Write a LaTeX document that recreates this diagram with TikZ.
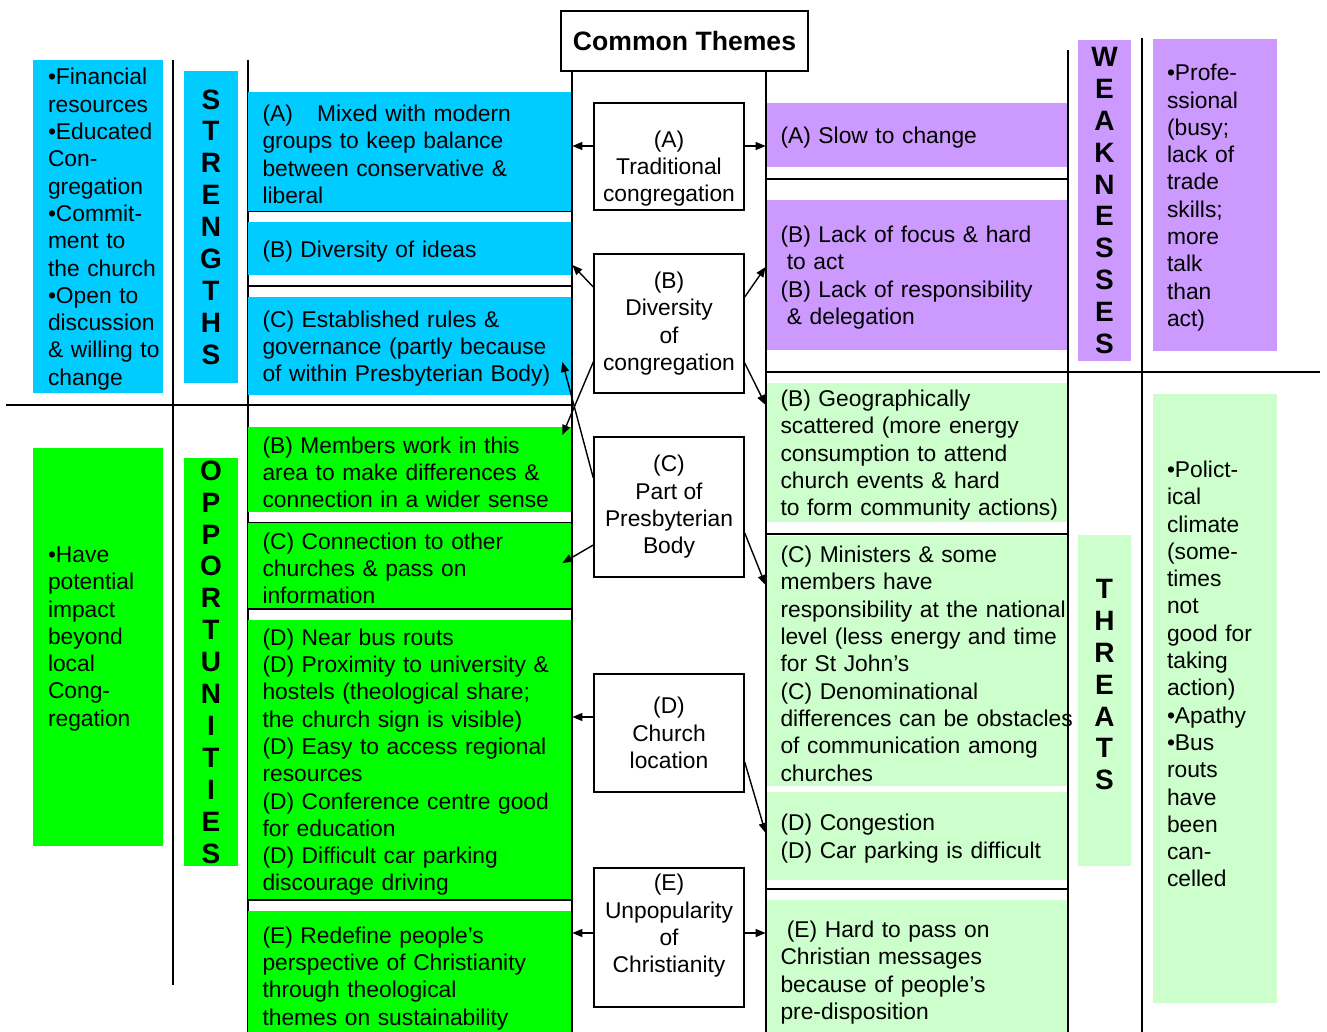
\documentclass[tikz,border=0pt]{standalone}
\usepackage{fontspec}
\setmainfont{Liberation Sans}
\usetikzlibrary{arrows.meta}

\hyphenpenalty=10000
\exhyphenpenalty=10000

\definecolor{strcol}{RGB}{0,204,255}
\definecolor{oppcol}{RGB}{0,255,0}
\definecolor{weakcol}{RGB}{204,153,255}
\definecolor{thrcol}{RGB}{204,255,204}

\newcommand{\swotfont}{\fontsize{11.4}{13.65}\selectfont}
\newcommand{\swotletters}{\fontsize{14}{15.95}\selectfont\bfseries}

\tikzset{
  lcell/.style={fill=#1, text width=147.5pt, text height=11pt, inner xsep=7.25pt, inner ysep=0pt, align=left, font=\swotfont},
  rcell/.style={fill=#1, text width=136.5pt, text height=11pt, inner xsep=7.25pt, inner ysep=0pt, align=left, font=\swotfont},
  sidel/.style={fill=#1, text width=50pt, text height=11pt, inner xsep=7.5pt, inner ysep=0pt, align=left, font=\swotfont},
  sider/.style={fill=#1, text width=48pt, text height=11pt, inner xsep=7pt, inner ysep=0pt, align=left, font=\swotfont},
  letters/.style={fill=#1, minimum width=27pt, inner sep=0pt, align=center, font=\swotletters},
  theme/.style={draw, line width=0.7pt, fill=white, minimum width=75pt, inner sep=0pt, align=center, font=\swotfont},
}

\begin{document}
\begin{tikzpicture}[x=0.5pt, y=-0.5pt,
    link/.style={-{Triangle[length=5pt,width=4pt]}, line width=0.7pt},
    rule/.style={line width=0.7pt}]
\useasboundingbox (0,0) rectangle (1327,1032);

% grid lines behind the cells
\draw[rule] (173,60) -- (173,985);
\draw[rule] (248,60) -- (248,1032);
\draw[rule] (6,405) -- (572,405);
\draw[rule] (248,211) -- (572,211);
\draw[rule] (248,286) -- (572,286);
\draw[rule] (248,523) -- (572,523);
\draw[rule] (248,609) -- (572,609);
\draw[rule] (248,900) -- (572,900);
\draw[rule] (766,179) -- (1068,179);
\draw[rule] (766,372) -- (1320,372);
\draw[rule] (766,534) -- (1068,534);
\draw[rule] (766,889) -- (1068,889);
\draw[rule] (1142,38) -- (1142,1032);

% title
\node[draw, line width=0.7pt, minimum width=123.5pt, minimum height=30pt, inner sep=0pt,
      font=\fontsize{13.3}{16}\selectfont\bfseries] (common) at (684.5,41) {Common Themes};

% strengths
\node[sidel=strcol, minimum height=166.5pt] (strTxt) at (98,226.5)
  {•Financial\\resources\\•Educated\\Con-\\gregation\\•Commit-\\ment to\\\mbox{the church}\\•Open to\\discussion\\\mbox{\& willing to}\\change};
\node[letters=strcol, minimum height=156pt] (strLbl) at (211,227) {S\\T\\R\\E\\N\\G\\T\\H\\S};
\node[lcell=strcol, minimum height=59.5pt] (sA) at (410,151.5)
  {(A)\hspace{8.3pt} Mixed with modern\\groups to keep balance\\between conservative \&\\liberal};
\node[lcell=strcol, minimum height=26.5pt] (sB) at (410,248.5) {(B) Diversity of ideas};
\node[lcell=strcol, minimum height=49pt] (sC) at (410,346)
  {(C) Established rules \&\\governance (partly because\\of within Presbyterian Body)};

% opportunities
\node[sidel=oppcol, minimum height=199pt] (oppTxt) at (98,647)
  {•Have\\potential\\impact\\beyond\\local\\Cong-\\regation\\\mbox{}};
\node[letters=oppcol, minimum height=204pt] (oppLbl) at (211,662) {O\\P\\P\\O\\R\\T\\U\\N\\I\\T\\I\\E\\S};
\node[lcell=oppcol, minimum height=42.5pt] (oB) at (410,469.5)
  {(B) Members work in this\\area to make differences \&\\connection in a wider sense};
\node[lcell=oppcol, minimum height=42.5pt] (oC) at (410,565.5)
  {(C) Connection to other\\churches \& pass on\\information};
\node[lcell=oppcol, minimum height=139.5pt] (oD) at (410,759.5)
  {(D) Near bus routs\\(D) Proximity to university \&\\hostels (theological share;\\the church sign is visible)\\(D) Easy to access regional\\resources\\(D) Conference centre good\\for education\\(D) Difficult car parking\\discourage driving};
\node[lcell=oppcol, minimum height=64.5pt] (oE) at (410,975.5)
  {(E) Redefine people’s\\perspective of Christianity\\through theological\\themes on sustainability};

% weaknesses
\node[rcell=weakcol, minimum height=32pt] (wA) at (917,135) {(A) Slow to change};
\node[rcell=weakcol, minimum height=75pt] (wB) at (917,275)
  {(B) Lack of focus \& hard\\\hspace*{.278em}to act\\(B) Lack of responsibility\\\hspace*{.278em}\& delegation};
\node[letters=weakcol, minimum width=26.5pt, minimum height=160.5pt] (weakLbl) at (1104.5,200.5) {W\\E\\A\\K\\N\\E\\S\\S\\E\\S};
\node[sider=weakcol, minimum height=156pt] (weakTxt) at (1215,195)
  {•Profe-\\ssional\\(busy;\\lack of\\trade\\skills;\\more\\talk\\than\\act)};

% threats
\node[rcell=thrcol, minimum height=69.5pt] (thB) at (917,452.5)
  {(B) Geographically\\scattered (more energy\\consumption to attend\\church events \& hard\\\mbox{to form community actions)}};
\node[rcell=thrcol, minimum height=125pt] (thC) at (917,661)
  {(C) Ministers \& some\\members have\\\mbox{responsibility at the national}\\\mbox{level (less energy and time}\\for St John’s\\(C) Denominational\\\mbox{differences can be obstacles}\\of communication among\\churches};
\node[rcell=thrcol, minimum height=44pt] (thD) at (917,836)
  {(D) Congestion\\(D) Car parking is difficult};
\node[rcell=thrcol, minimum height=70pt] (thE) at (917,970)
  {\hspace*{.278em}(E) Hard to pass on\\Christian messages\\because of people’s\\pre-disposition};
\node[letters=thrcol, minimum width=26.5pt, minimum height=165.5pt] (thrLbl) at (1104.5,700.5) {T\\H\\R\\E\\A\\T\\S\\\mbox{}};
\node[sider=thrcol, minimum height=304.5pt] (thrTxt) at (1215,698.5)
  {•Polict-\\ical\\climate\\(some-\\times\\not\\good for\\taking\\action)\\•Apathy\\•Bus\\routs\\have\\been\\can-\\celled\\\mbox{}\\\mbox{}};

% column borders in front
\draw[rule] (572,71) -- (572,1032);
\draw[rule] (766,71) -- (766,1032);
\draw[rule] (1068,50) -- (1068,1032);

% common themes
\node[theme, minimum height=53.5pt, text height=47.6pt] (tA) at (669,156.5) {(A)\\Traditional\\congregation};
\node[theme, minimum height=69.5pt] (tB) at (669,323.5) {(B)\\Diversity\\of\\congregation};
\node[theme, minimum height=70pt] (tC) at (669,507) {(C)\\Part of\\Presbyterian\\Body};
\node[theme, minimum height=59pt] (tD) at (669,733) {(D)\\Church\\location};
\node[theme, minimum height=69.5pt, text depth=13.9pt] (tE) at (669,937.5) {(E)\\Unpopularity\\of\\Christianity};

% links
\draw[link] ([yshift=5.25pt]tA.west) -- ([yshift=2.75pt]sA.east);
\draw[link] ([yshift=5.25pt]tA.east) -- ([yshift=-5.5pt]wA.west);
\draw[link] ([yshift=18.25pt]tB.west) -- ([yshift=-8.25pt]sB.east);
\draw[link] ([yshift=13.25pt]tB.east) -- ([yshift=4pt]wB.west);
\draw[link] ([yshift=-19.75pt]tB.east) -- ([yshift=23.75pt]thB.west);
\draw[link] ([yshift=-19.25pt]tB.west) -- ([xshift=-5pt,yshift=17.25pt]oB.east);
\draw[link] ([yshift=14.5pt]tC.west) -- ([xshift=-5pt,yshift=-8pt]sC.east);
\draw[link] ([yshift=-19pt]tC.west) -- ([xshift=-5pt,yshift=1.25pt]oC.east);
\draw[link] ([yshift=-13pt]tC.east) -- ([yshift=38pt]thC.west);
\draw[link] ([yshift=8pt]tD.west) -- ([yshift=21.25pt]oD.east);
\draw[link] ([yshift=-14.5pt]tD.east) -- ([yshift=1.5pt]thD.west);
\draw[link] ([yshift=2.25pt]tE.west) -- ([yshift=21.25pt]oE.east);
\draw[link] ([yshift=2.25pt]tE.east) -- ([yshift=18.5pt]thE.west);
\end{tikzpicture}
\end{document}
